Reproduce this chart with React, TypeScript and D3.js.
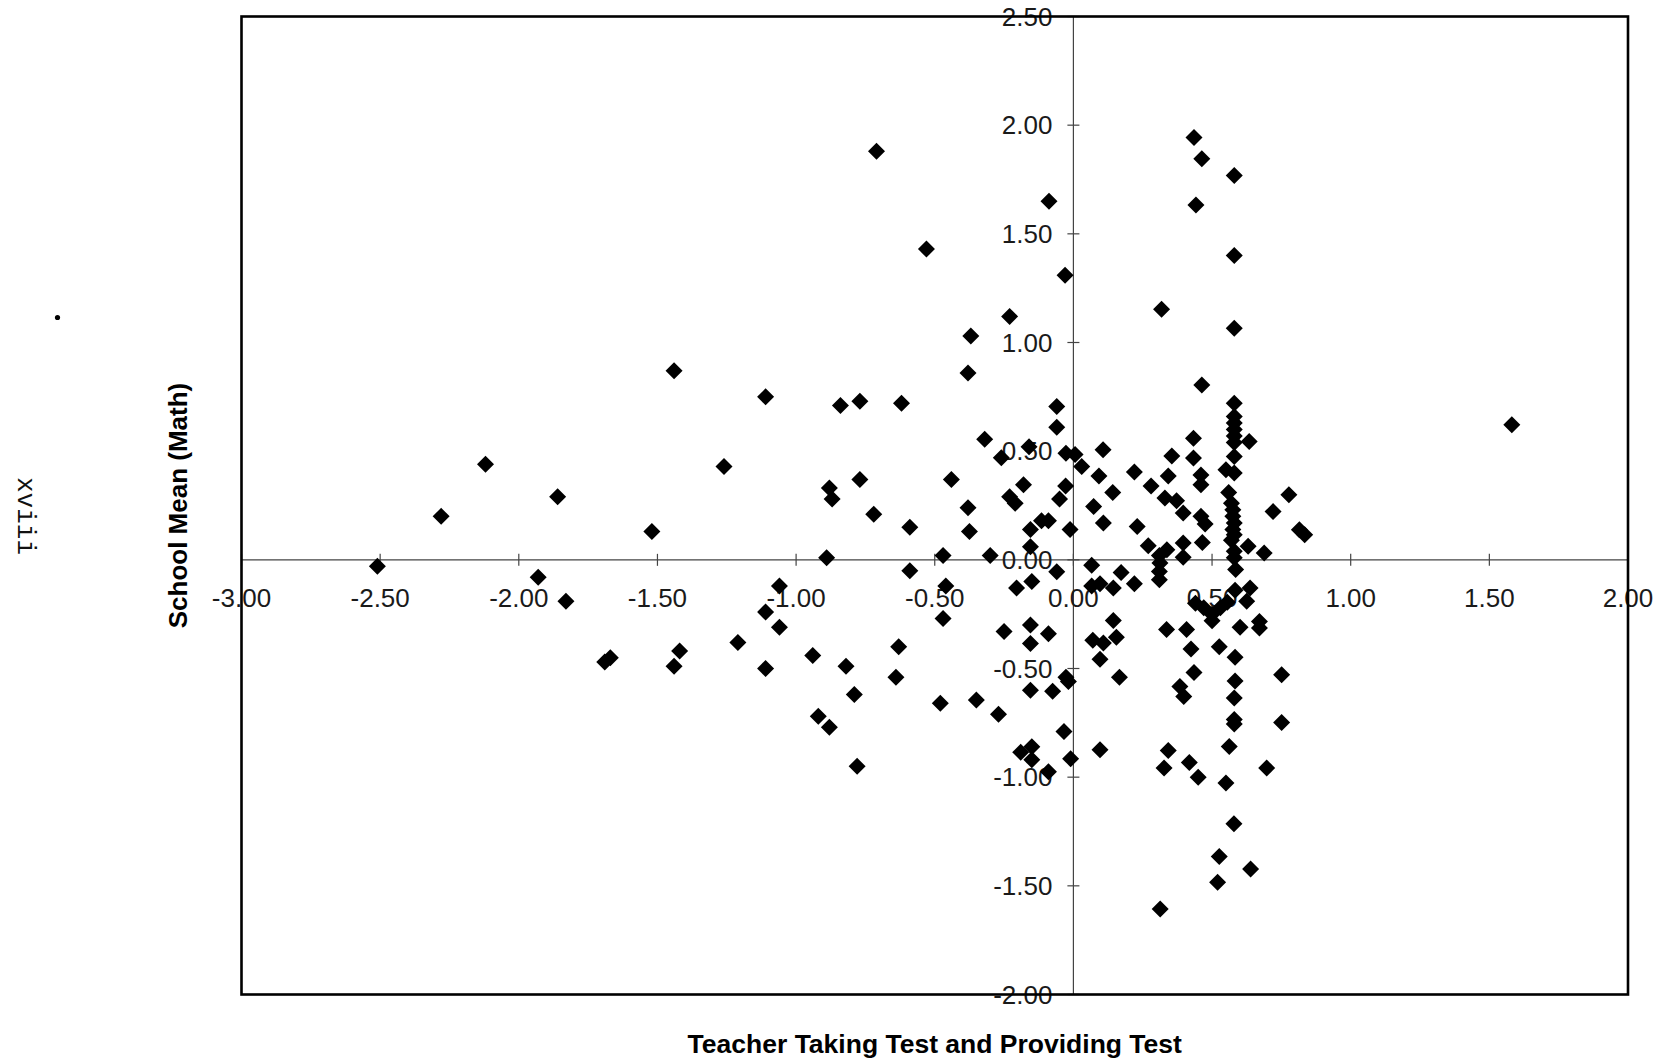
import React from "react";
import * as d3 from "d3";

// School-level data: teacher "taking test / providing test" score vs school mean (math)
const teacherTest: number[] = [
  -2.51, -2.28, -2.12, -1.93, -1.86, -1.83, -1.69, -1.67, -1.52, -1.44, -1.44, -1.42,
  -1.26, -1.21, -1.11, -1.11, -1.11, -1.06, -1.06, -0.94, -0.92, -0.89, -0.88, -0.87,
  -0.88, -0.84, -0.82, -0.79, -0.77, -0.77, -0.78, -0.72, -0.71, -0.62, -0.63, -0.64,
  -0.59, -0.59, -0.53, -0.48, -0.47, -0.46, -0.47, -0.44,
  -0.38, -0.37, -0.38, -0.375, -0.35, -0.32, -0.3, -0.27, -0.26, -0.25, -0.23, -0.23,
  -0.21, -0.205, -0.19, -0.18, -0.16, -0.155, -0.155, -0.15, -0.155, -0.155, -0.155, -0.15,
  -0.15, -0.115, -0.09, -0.09, -0.09, -0.088, -0.075, -0.06, -0.06, -0.06, -0.05, -0.034,
  -0.03, -0.028, -0.027, -0.027, -0.018, -0.012, -0.01,
  0.006, 0.03, 0.066, 0.066, 0.07, 0.073, 0.092, 0.096, 0.096, 0.096, 0.107, 0.108,
  0.108, 0.142, 0.144, 0.144, 0.155, 0.166, 0.172, 0.22, 0.22, 0.23, 0.27, 0.28,
  0.31, 0.312, 0.31, 0.31, 0.318, 0.327, 0.313,
  0.33, 0.336, 0.337, 0.342, 0.342, 0.355, 0.372, 0.384, 0.396, 0.396, 0.396, 0.398,
  0.408, 0.418, 0.424, 0.435, 0.433, 0.433, 0.435, 0.442, 0.44, 0.45, 0.46, 0.46,
  0.463, 0.463, 0.46, 0.475, 0.465, 0.47, 0.5, 0.5,
  0.52, 0.526, 0.526, 0.53, 0.55, 0.55, 0.555, 0.562, 0.56, 0.57, 0.575, 0.575,
  0.58, 0.575, 0.58, 0.57, 0.58, 0.58, 0.585, 0.583, 0.58, 0.58, 0.58, 0.58,
  0.58, 0.58, 0.58, 0.58, 0.58, 0.58, 0.58, 0.583, 0.583, 0.58, 0.58, 0.58,
  0.579, 0.601, 0.625, 0.634, 0.63, 0.637, 0.639, 0.671, 0.671, 0.688, 0.697, 0.72,
  0.751, 0.751, 0.777, 0.815, 0.834, 1.581,
];

const schoolMean: number[] = [
  -0.03, 0.2, 0.44, -0.08, 0.29, -0.19, -0.47, -0.45, 0.13, 0.87, -0.49, -0.42,
  0.43, -0.38, 0.75, -0.24, -0.5, -0.12, -0.31, -0.44, -0.72, 0.01, 0.33, 0.28,
  -0.77, 0.71, -0.49, -0.62, 0.73, 0.37, -0.95, 0.21, 1.88, 0.72, -0.4, -0.54,
  -0.05, 0.15, 1.43, -0.66, 0.02, -0.12, -0.27, 0.37,
  0.86, 1.03, 0.24, 0.13, -0.645, 0.555, 0.02, -0.71, 0.47, -0.33, 1.12, 0.29,
  0.26, -0.13, -0.885, 0.345, 0.52, 0.06, 0.14, -0.1, -0.3, -0.385, -0.6, -0.86,
  -0.92, 0.18, 0.18, -0.34, -0.975, 1.65, -0.605, 0.705, 0.61, -0.055, 0.28, -0.79,
  1.31, 0.34, 0.49, -0.54, -0.56, 0.14, -0.915,
  0.485, 0.43, -0.025, -0.12, -0.37, 0.245, 0.386, -0.11, -0.457, -0.874, 0.506, 0.17,
  -0.383, 0.31, -0.13, -0.279, -0.356, -0.54, -0.058, 0.404, -0.11, 0.153, 0.065, 0.34,
  0.02, -0.015, -0.054, -0.092, 1.153, -0.958, -1.607,
  0.284, -0.32, 0.046, 0.386, -0.877, 0.478, 0.272, -0.583, 0.215, 0.077, 0.012, -0.629,
  -0.32, -0.932, -0.41, -0.518, 0.56, 0.468, 1.943, 1.633, -0.2, -1.0, 0.39, 0.345,
  0.805, 1.845, 0.2, 0.165, 0.08, -0.22, -0.25, -0.28,
  -1.483, -1.365, -0.4, -0.22, -1.027, 0.415, -0.195, -0.859, 0.31, 0.26, 0.23, 0.2,
  0.17, 0.14, 0.115, 0.09, 0.04, 0.01, -0.045, -0.14, 0.72, 0.66, 0.63, 0.6,
  0.57, 0.54, 0.475, 0.4, 1.768, 1.4, 1.066, -0.448, -0.557, -0.636, -0.735, -0.755,
  -1.214, -0.31, -0.19, 0.544, 0.063, -0.13, -1.423, -0.284, -0.314, 0.031, -0.958, 0.222,
  -0.529, -0.748, 0.299, 0.138, 0.115, 0.621,
];

const xTicks: number[] = [-3, -2.5, -2, -1.5, -1, -0.5, 0, 0.5, 1, 1.5, 2];
const yTicks: number[] = [2.5, 2, 1.5, 1, 0.5, 0, -0.5, -1, -1.5, -2];

const xTitle = "Teacher Taking Test and Providing Test";
const yTitle = "School Mean (Math)";
const pageNumber = "xviii";

const W = 1662;
const H = 1062;
const frame = { left: 241.5, right: 1628, top: 16.5, bottom: 994.5 };

// two decimals with a plain hyphen for negatives
const fmt = (v: number) => v.toFixed(2);

export default function App() {
  const x = d3.scaleLinear().domain([-3, 2]).range([frame.left, frame.right]);
  const y = d3.scaleLinear().domain([-2, 2.5]).range([frame.bottom, frame.top]);

  const x0 = x(0);
  const y0 = y(0);
  const r = 8.5;
  const tickLen = 6;
  const labelFont = "'Liberation Sans', Arial, sans-serif";

  const points = teacherTest.map((v, i) => [v, schoolMean[i]] as [number, number]);

  return (
    <svg
      width={W}
      height={H}
      viewBox={`0 0 ${W} ${H}`}
      style={{ position: "absolute", left: 0, top: 0, background: "#fff" }}
    >
      <rect x={0} y={0} width={W} height={H} fill="#fff" />

      {/* axis lines through the origin */}
      <line x1={frame.left} x2={frame.right} y1={y0} y2={y0} stroke="#444" strokeWidth={1.2} />
      <line x1={x0} x2={x0} y1={frame.top} y2={frame.bottom} stroke="#444" strokeWidth={1.2} />

      {/* x ticks and labels */}
      {xTicks.map((t) => (
        <g key={`xt${t}`}>
          <line x1={x(t)} x2={x(t)} y1={y0 - tickLen} y2={y0 + tickLen} stroke="#444" strokeWidth={1.2} />
          <text
            x={x(t)}
            y={y0 + 47}
            textAnchor="middle"
            fontFamily={labelFont}
            fontSize={26}
            fill="#1a1a1a"
          >
            {fmt(t)}
          </text>
        </g>
      ))}

      {/* y ticks and labels */}
      {yTicks.map((t) => (
        <g key={`yt${t}`}>
          <line x1={x0 - tickLen} x2={x0 + tickLen} y1={y(t)} y2={y(t)} stroke="#444" strokeWidth={1.2} />
          <text
            x={x0 - 21}
            y={y(t) + 9}
            textAnchor="end"
            fontFamily={labelFont}
            fontSize={26}
            fill="#1a1a1a"
          >
            {fmt(t)}
          </text>
        </g>
      ))}

      {/* plot frame */}
      <rect
        x={frame.left}
        y={frame.top}
        width={frame.right - frame.left}
        height={frame.bottom - frame.top}
        fill="none"
        stroke="#000"
        strokeWidth={2.6}
      />

      {/* data markers */}
      {points.map(([px, py], i) => {
        const cx = x(px);
        const cy = y(py);
        return (
          <path
            key={`p${i}`}
            d={`M${cx},${cy - r}L${cx + r},${cy}L${cx},${cy + r}L${cx - r},${cy}Z`}
            fill="#000"
          />
        );
      })}

      {/* axis titles */}
      <text
        x={(frame.left + frame.right) / 2}
        y={1053}
        textAnchor="middle"
        fontFamily={labelFont}
        fontWeight="bold"
        fontSize={26.5}
        fill="#000"
      >
        {xTitle}
      </text>
      <text
        transform={`translate(187, ${(frame.top + frame.bottom) / 2}) rotate(-90)`}
        textAnchor="middle"
        fontFamily={labelFont}
        fontWeight="bold"
        fontSize={26}
        fill="#000"
      >
        {yTitle}
      </text>

      {/* page number in the margin */}
      <text
        transform="translate(18, 516) rotate(90)"
        textAnchor="middle"
        fontFamily="'Liberation Mono', 'DejaVu Sans Mono', monospace"
        fontSize={26}
        fill="#111"
      >
        {pageNumber}
      </text>
      <circle cx={57.5} cy={317.5} r={2.6} fill="#000" />
    </svg>
  );
}
